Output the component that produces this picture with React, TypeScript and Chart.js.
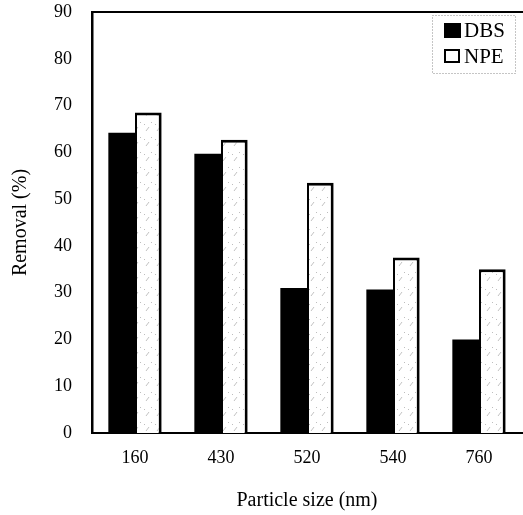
import React, { useEffect, useRef } from "react";
import { Chart, registerables } from "chart.js";

Chart.register(...registerables);

// Particle size categories (nm) and removal percentages per surfactant
const particleSizes = ["160", "430", "520", "540", "760"];
const dbsRemoval = [64.2, 59.7, 31.0, 30.7, 20.0];
const npeRemoval = [68.5, 62.7, 53.5, 37.5, 35.0];
const yTickValues = [0, 10, 20, 30, 40, 50, 60, 70, 80, 90];

const SERIF = "'Liberation Serif', 'Times New Roman', serif";

// Light speckled hatch used to fill the NPE bars
function makeSpeckle(): CanvasPattern | string {
  const c = document.createElement("canvas");
  c.width = 11;
  c.height = 15;
  const g = c.getContext("2d");
  if (!g) return "#ffffff";
  g.fillStyle = "#ffffff";
  g.fillRect(0, 0, c.width, c.height);
  g.strokeStyle = "rgba(120,120,120,0.45)";
  g.lineWidth = 1;
  g.beginPath();
  g.moveTo(3, 11);
  g.lineTo(6, 7);
  g.stroke();
  g.fillStyle = "rgba(110,110,110,0.45)";
  g.fillRect(8, 2, 1, 1);
  g.fillRect(1, 4, 1, 1);
  const p = g.createPattern(c, "repeat");
  return p || "#ffffff";
}

// Top frame line and the in-plot legend box
const framePlugin = {
  id: "frameAndLegend",
  afterDraw(chart: any) {
    const { ctx, chartArea } = chart;
    ctx.save();
    ctx.strokeStyle = "#000";
    ctx.lineWidth = 2;
    ctx.beginPath();
    ctx.moveTo(chartArea.left - 1, chartArea.top);
    ctx.lineTo(chart.width, chartArea.top);
    ctx.stroke();

    // legend box
    const bx = 432;
    const by = 15;
    const bw = 83;
    const bh = 58;
    ctx.strokeStyle = "#8a8a8a";
    ctx.lineWidth = 1;
    ctx.setLineDash([1, 2]);
    ctx.strokeRect(bx + 0.5, by + 0.5, bw, bh);
    ctx.setLineDash([]);

    const datasets = chart.data.datasets;
    ctx.font = `21px ${SERIF}`;
    ctx.textBaseline = "middle";
    ctx.textAlign = "left";
    datasets.forEach((ds: any, i: number) => {
      const cy = by + 15 + i * 26;
      const sx = bx + 12;
      if (i === 0) {
        ctx.fillStyle = "#000";
        ctx.fillRect(sx, cy - 7, 17, 15);
      } else {
        ctx.fillStyle = "#fff";
        ctx.fillRect(sx, cy - 7, 16, 14);
        ctx.strokeStyle = "#000";
        ctx.lineWidth = 2;
        ctx.strokeRect(sx + 1, cy - 6, 14, 12);
      }
      ctx.fillStyle = "#000";
      ctx.fillText(ds.label, sx + 20, cy + 1);
    });
    ctx.restore();
  },
};

export default function App() {
  const canvasRef = useRef<HTMLCanvasElement | null>(null);

  useEffect(() => {
    const canvas = canvasRef.current;
    if (!canvas) return;
    const chart = new Chart(canvas, {
      type: "bar",
      data: {
        labels: particleSizes,
        datasets: [
          {
            label: "DBS",
            data: dbsRemoval,
            backgroundColor: "#000",
            borderWidth: 0,
          },
          {
            label: "NPE",
            data: npeRemoval,
            backgroundColor: makeSpeckle() as any,
            borderColor: "#000",
            borderWidth: { top: 3, left: 2, right: 3, bottom: 0 },
          },
        ],
      },
      options: {
        responsive: false,
        animation: false,
        layout: { padding: { top: 12, right: 1, left: 0, bottom: 0 } },
        datasets: {
          bar: { categoryPercentage: 0.62, barPercentage: 1.0 },
        },
        plugins: {
          legend: { display: false },
          tooltip: { enabled: false },
        },
        scales: {
          x: {
            grid: { display: false, drawTicks: false },
            border: { display: true, color: "#000", width: 2 },
            ticks: {
              color: "#000",
              font: { family: SERIF, size: 18 },
              padding: 14,
            },
            title: {
              display: true,
              text: "Particle size (nm)",
              color: "#000",
              font: { family: SERIF, size: 20 },
              padding: { top: 0, bottom: 2 },
            },
            afterFit(scale: any) {
              scale.height = 82;
              scale.paddingLeft = 0;
              scale.paddingRight = 0;
            },
          },
          y: {
            min: 0,
            max: 90,
            grid: { display: false, drawTicks: false },
            border: { display: true, color: "#000", width: 2.5 },
            afterBuildTicks(scale: any) {
              scale.ticks = yTickValues.map((v) => ({ value: v }));
            },
            ticks: {
              color: "#000",
              font: { family: SERIF, size: 18 },
              padding: 20,
            },
            title: {
              display: true,
              text: "Removal (%)",
              color: "#000",
              font: { family: SERIF, size: 20 },
              padding: { top: 9, bottom: 0 },
            },
            afterFit(scale: any) {
              scale.width = 92;
              scale.paddingTop = 0;
              scale.paddingBottom = 0;
            },
          },
        },
      },
      plugins: [framePlugin],
    });
    return () => chart.destroy();
  }, []);

  return (
    <div
      style={{
        position: "absolute",
        left: 0,
        top: 0,
        width: 523,
        height: 515,
        background: "#fff",
      }}
    >
      <canvas ref={canvasRef} width={523} height={515} />
    </div>
  );
}
